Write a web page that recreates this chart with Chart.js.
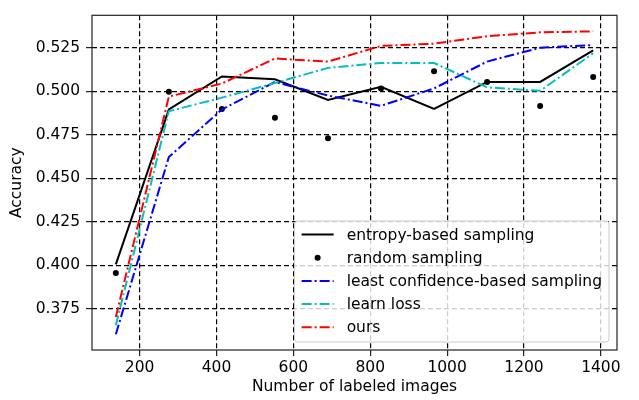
<!DOCTYPE html>
<html>
<head>
<meta charset="utf-8">
<script src="https://cdn.jsdelivr.net/npm/chart.js@4.4.1/dist/chart.umd.min.js"></script>
<style>
  html, body { margin: 0; padding: 0; background: #fff; }
  canvas { display: block; }
</style>
</head>
<body>
<canvas id="grafico" width="639" height="400"></canvas>
<script>
// dados
const labeledImages = [138, 276, 414, 552, 690, 828, 966, 1104, 1242, 1380];
const entropy   = [0.4005, 0.4895, 0.5085, 0.5068, 0.4950, 0.5025, 0.4898, 0.5053, 0.5053, 0.5235];
const random    = [0.3955, 0.4997, 0.4898, 0.4847, 0.4730, 0.5016, 0.5115, 0.5053, 0.4915, 0.5081];
const leastConf = [0.3603, 0.4622, 0.4895, 0.5053, 0.4975, 0.4916, 0.5016, 0.5170, 0.5250, 0.5265];
const learnLoss = [0.3655, 0.4885, 0.4963, 0.5047, 0.5134, 0.5162, 0.5162, 0.5022, 0.5002, 0.5218];
const ours      = [0.3702, 0.4969, 0.5044, 0.5188, 0.5170, 0.5260, 0.5273, 0.5316, 0.5338, 0.5344];
const xTicks = [200, 400, 600, 800, 1000, 1200, 1400];
const yTicks = [0.375, 0.400, 0.425, 0.450, 0.475, 0.500, 0.525];

const FONT = 'DejaVu Sans';
const FSIZE = 15.5;
const toPts = arr => arr.map((v, i) => ({ x: labeledImages[i], y: v }));
const dashDot = [10, 3, 2, 3];

// moldura (spines) por cima das linhas
const frame = {
  id: 'frame',
  afterDatasetsDraw(chart) {
    const a = chart.chartArea, c = chart.ctx;
    c.save();
    c.strokeStyle = '#222';
    c.lineWidth = 1.2;
    c.strokeRect(a.left, a.top, a.right - a.left, a.bottom - a.top);
    c.restore();
  }
};

// legenda estilo matplotlib, canto inferior direito
const boxLegend = {
  id: 'boxLegend',
  afterDraw(chart) {
    const c = chart.ctx, a = chart.chartArea;
    const sets = chart.data.datasets;
    c.save();
    c.font = FSIZE + 'px "' + FONT + '"';
    let tw = 0;
    sets.forEach(d => { tw = Math.max(tw, c.measureText(d.label).width); });
    const pad = 7, handle = 32, gap = 13, rowH = 23.2;
    const w = pad + handle + gap + tw + pad;
    const h = rowH * sets.length + 5;
    const right = a.right - 8, bottom = a.bottom - 8;
    const left = right - w, top = bottom - h;
    c.beginPath();
    c.roundRect(left, top, w, h, 3);
    c.fillStyle = 'rgba(255,255,255,0.8)';
    c.fill();
    c.strokeStyle = '#cccccc';
    c.lineWidth = 1;
    c.stroke();
    sets.forEach((d, i) => {
      const y = top + 13.5 + i * rowH;
      const hx = left + pad;
      if (d.showLine === false) {
        c.beginPath();
        c.arc(hx + handle / 2, y, 3, 0, Math.PI * 2);
        c.fillStyle = d.pointBackgroundColor;
        c.fill();
      } else {
        c.beginPath();
        c.setLineDash(d.borderDash || []);
        c.strokeStyle = d.borderColor;
        c.lineWidth = d.borderWidth;
        c.moveTo(hx, y);
        c.lineTo(hx + handle, y);
        c.stroke();
        c.setLineDash([]);
      }
      c.fillStyle = '#000';
      c.textBaseline = 'middle';
      c.textAlign = 'left';
      c.fillText(d.label, hx + handle + gap, y + 1);
    });
    c.restore();
  }
};

const gridOpts = {
  color: '#000',
  lineWidth: 1.2,
  drawTicks: true,
  tickLength: 6,
  tickColor: '#222',
  tickWidth: 1.2
};

new Chart(document.getElementById('grafico').getContext('2d'), {
  type: 'line',
  data: {
    datasets: [
      { label: 'entropy-based sampling', data: toPts(entropy), borderColor: '#000000', borderWidth: 2, pointRadius: 0, order: 5 },
      { label: 'random sampling', data: toPts(random), showLine: false, pointRadius: 3, pointBackgroundColor: '#000000', pointBorderWidth: 0, order: 4 },
      { label: 'least confidence-based sampling', data: toPts(leastConf), borderColor: '#0000ff', borderWidth: 2, borderDash: dashDot, pointRadius: 0, order: 3 },
      { label: 'learn loss', data: toPts(learnLoss), borderColor: '#00bfbf', borderWidth: 2, borderDash: dashDot, pointRadius: 0, order: 2 },
      { label: 'ours', data: toPts(ours), borderColor: '#ff0000', borderWidth: 2, borderDash: dashDot, pointRadius: 0, order: 1 }
    ]
  },
  options: {
    responsive: false,
    animation: false,
    layout: { padding: { top: 9, right: 22, left: 0, bottom: 0 } },
    elements: { line: { tension: 0, fill: false } },
    plugins: { legend: { display: false }, tooltip: { enabled: false } },
    scales: {
      x: {
        type: 'linear',
        min: 76,
        max: 1442,
        afterBuildTicks: s => { s.ticks = xTicks.map(v => ({ value: v })); },
        afterFit: s => { s.height = 50; },
        grid: gridOpts,
        border: { display: false, dash: [5, 3] },
        ticks: { color: '#000', padding: 3, maxRotation: 0, font: { family: FONT, size: FSIZE }, callback: v => String(v) },
        title: { display: true, text: 'Number of labeled images', color: '#000', padding: { top: 0, bottom: 4 }, font: { family: FONT, size: FSIZE } }
      },
      y: {
        type: 'linear',
        min: 0.3513,
        max: 0.5436,
        afterBuildTicks: s => { s.ticks = yTicks.map(v => ({ value: v })); },
        afterFit: s => { s.width = 92; },
        grid: gridOpts,
        border: { display: false, dash: [5, 3] },
        ticks: { color: '#000', padding: 6, font: { family: FONT, size: FSIZE }, callback: v => v.toFixed(3) },
        title: { display: true, text: 'Accuracy', color: '#000', padding: { top: 8, bottom: 0 }, font: { family: FONT, size: FSIZE } }
      }
    }
  },
  plugins: [frame, boxLegend]
});
</script>
</body>
</html>
